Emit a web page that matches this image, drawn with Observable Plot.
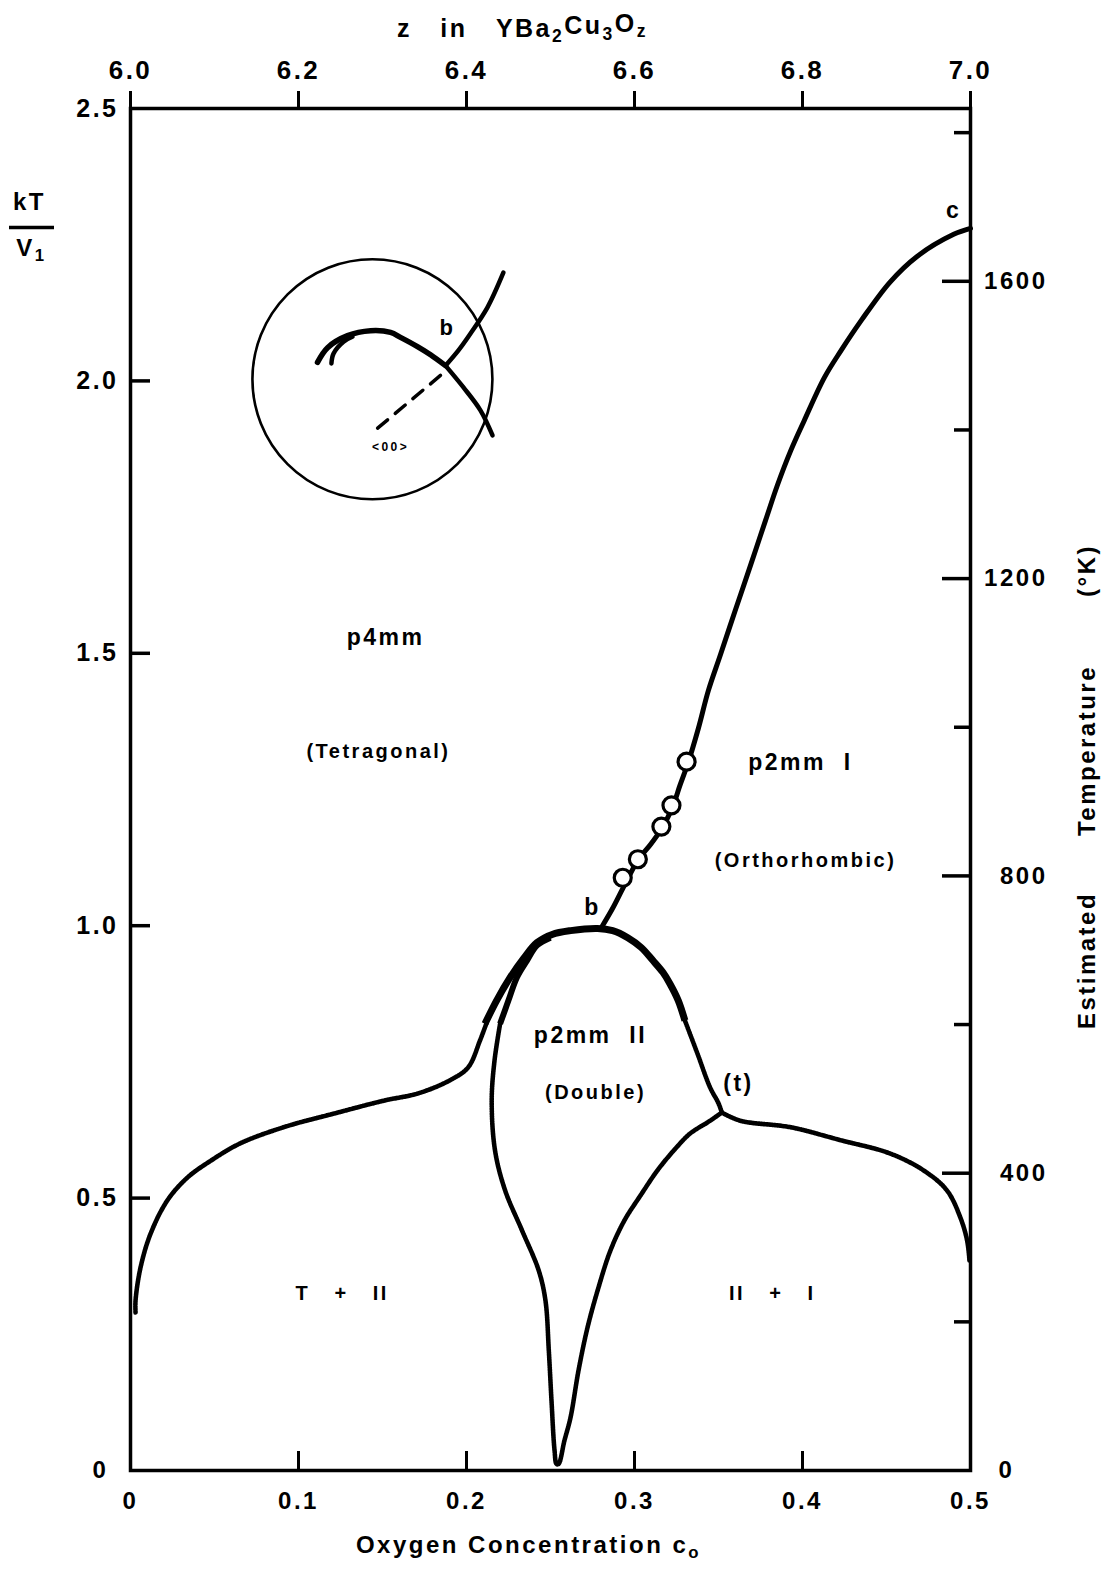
<!DOCTYPE html>
<html><head><meta charset="utf-8">
<script src="https://cdn.jsdelivr.net/npm/d3@7"></script>
<script src="https://cdn.jsdelivr.net/npm/@observablehq/plot@0.6"></script>
<style>
html,body{margin:0;padding:0;background:#fff;}
#chart svg{display:block;}
#chart svg text{letter-spacing:2.5px;}
</style></head><body><div id="chart"></div>
<script>
// ---------- data ----------
const bottomTicks = [0.1, 0.2, 0.3, 0.4];
const bottomLabels = [0, 0.1, 0.2, 0.3, 0.4, 0.5];
const leftTicks = [0.5, 1.0, 1.5, 2.0];
const leftLabels = [0.5, 1.0, 1.5, 2.0, 2.5];
const topTicks = [6.0, 6.2, 6.4, 6.6, 6.8, 7.0];
const tempMajor = [400, 800, 1200, 1600];
const tempMinor = [200, 600, 1000, 1400, 1800];
const tempLabels = [400, 800, 1200, 1600];
const kelvinPerUnit = 733;

// order-disorder line b -> c
const lineBC_x = [0.280,0.287,0.293,0.302,0.310,0.317,0.323,0.327,0.332,0.338,0.344,0.351,0.360,0.369,0.378,0.385,0.393,0.401,0.413,0.423,0.435,0.452,0.468,0.490,0.500];
const lineBC_y = [0.995,1.032,1.068,1.120,1.151,1.182,1.221,1.257,1.300,1.362,1.432,1.496,1.579,1.661,1.744,1.808,1.872,1.927,2.006,2.056,2.111,2.181,2.228,2.269,2.280];
// simulation points (open circles)
const circ_x = [0.293, 0.302, 0.316, 0.322, 0.331];
const circ_y = [1.088, 1.122, 1.182, 1.221, 1.301];

// T + II boundary (left, dotted)
const leftDot_x = [0.003,0.003,0.006,0.012,0.022,0.034,0.048,0.065,0.091,0.121,0.151,0.171,0.190,0.201,0.208,0.212];
const leftDot_y = [0.290,0.312,0.373,0.435,0.496,0.538,0.569,0.600,0.630,0.655,0.679,0.692,0.716,0.740,0.789,0.822];
// dome (thick, outer)
const dome_x = [0.211,0.218,0.226,0.234,0.242,0.251,0.262,0.278,0.287,0.296,0.304,0.311,0.317,0.321,0.326,0.330];
const dome_y = [0.820,0.863,0.905,0.940,0.969,0.984,0.991,0.995,0.991,0.978,0.960,0.936,0.914,0.894,0.863,0.826];
// inner thick branch on the left of the dome
const domeIn_x = [0.220,0.225,0.230,0.236,0.242,0.250];
const domeIn_y = [0.820,0.863,0.905,0.936,0.964,0.978];
// dome right side down to triple point (t), dotted
const rightDown_x = [0.330,0.3375,0.345,0.350,0.352];
const rightDown_y = [0.826,0.765,0.703,0.674,0.657];
// II + I boundary to the right edge, dotted
const rightDot_x = [0.352,0.363,0.393,0.423,0.452,0.472,0.486,0.494,0.498,0.4994];
const rightDot_y = [0.657,0.642,0.630,0.606,0.582,0.551,0.514,0.464,0.422,0.385];
// p2mm II lower boundary (the V), dotted
const vee_x = [0.220,0.2167,0.215,0.217,0.223,0.233,0.243,0.247,0.249,0.2506,0.2524,0.2536,0.2548,0.2583,0.2619,0.2667,0.272,0.278,0.2857,0.294,0.3036,0.3137,0.3244,0.3333,0.3435,0.352];
const vee_y = [0.820,0.753,0.679,0.587,0.514,0.441,0.367,0.312,0.220,0.128,0.037,0.012,0.012,0.055,0.097,0.184,0.262,0.330,0.404,0.459,0.505,0.551,0.591,0.619,0.639,0.657];

// inset (schematic magnification around b)
const inset_x = [0.144], inset_y = [2.003];
const insUp_x = [0.1875,0.1952,0.2024,0.2125,0.222];
const insUp_y = [2.028,2.056,2.087,2.135,2.199];
const insDown_x = [0.1875,0.1982,0.2083,0.2155];
const insDown_y = [2.028,1.988,1.946,1.900];
const insArc_x = [0.1875,0.1786,0.1708,0.1607,0.1548,0.1429,0.1292,0.1173,0.1113];
const insArc_y = [2.028,2.048,2.063,2.080,2.089,2.092,2.083,2.061,2.034];
const insArc2_x = [0.1321,0.1268,0.1208,0.1196];
const insArc2_y = [2.081,2.072,2.050,2.032];
const insDash_x = [0.1845,0.147];
const insDash_y = [2.010,1.913];

// region labels
const regionText = ["p4mm","(Tetragonal)","p2mm\u00A0\u00A0I","(Orthorhombic)","p2mm\u00A0\u00A0II","(Double)","T\u00A0\u00A0\u00A0+\u00A0\u00A0\u00A0II","II\u00A0\u00A0\u00A0+\u00A0\u00A0\u00A0I"];
const regionX = [0.1518,0.1476,0.3988,0.4018,0.2738,0.2768,0.126,0.382];
const regionY = [1.529,1.320,1.300,1.120,0.798,0.694,0.325,0.325];
const pointText = ["b","c","(t)"];
const pointX = [0.275,0.4899,0.3619];
const pointY = [1.033,2.313,0.710];
const insetText = ["b","<00>"];
const insetTX = [0.1887,0.1548];
const insetTY = [2.098,1.878];

// ---------- layout ----------
const W = 1110, H = 1569;
const mT = 108, mR = 140, mB = 99, mL = 130;
const pxX = (W - mL - mR) / 0.5;
const pxY = (H - mT - mB) / 2.5;
const zip = (xs, ys) => xs.map((x, i) => ({x, y: ys[i]}));
const F = "Liberation Sans, Arial, Helvetica, sans-serif";
const dotted = {x: "x", y: "y", curve: "catmull-rom", stroke: "#000", strokeWidth: 4.6, strokeDasharray: "1.6,0.9"};
const T0 = {textAnchor: "middle", lineAnchor: "middle"};

const chart = Plot.plot({
  width: W, height: H,
  marginTop: mT, marginRight: mR, marginBottom: mB, marginLeft: mL,
  x: {domain: [0, 0.5], axis: null},
  y: {domain: [0, 2.5], axis: null},
  style: {fontFamily: F, fontWeight: "bold", background: "white", color: "black", overflow: "visible"},
  marks: [
    // frame & ticks
    Plot.frame({stroke: "black", strokeWidth: 3.5}),
    Plot.ruleY(leftTicks, {x1: 0, x2: 20 / pxX, strokeWidth: 3.5}),
    Plot.ruleX(bottomTicks, {y1: 0, y2: 19 / pxY, strokeWidth: 3}),
    Plot.ruleX(topTicks, {x: d => (d - 6) / 2, y1: 2.5, y2: 2.5 + 17 / pxY, strokeWidth: 3}),
    Plot.ruleY(tempMajor, {y: d => d / kelvinPerUnit, x1: 0.5 - 28 / pxX, x2: 0.5, strokeWidth: 3.5}),
    Plot.ruleY(tempMinor, {y: d => d / kelvinPerUnit, x1: 0.5 - 16 / pxX, x2: 0.5, strokeWidth: 3.5}),
    // tick labels
    Plot.text(bottomLabels, {x: d => d, y: 0, dy: 31, text: d => d === 0 ? "0" : d.toFixed(1), fontSize: 24}),
    Plot.text(leftLabels, {x: 0, y: d => d, dx: -12, textAnchor: "end", text: d => d.toFixed(1), fontSize: 25}),
    Plot.text(["0"], {x: 0, y: 0, dx: -30, fontSize: 24}),
    Plot.text(topTicks, {x: d => (d - 6) / 2, y: 2.5, dy: -38, text: d => d.toFixed(1), fontSize: 26}),
    Plot.text(tempLabels, {x: 0.5, y: d => d / kelvinPerUnit, dx: 77, textAnchor: "end", text: d => String(d), fontSize: 24}),
    Plot.text(["0"], {x: 0.5, y: 0, dx: 36, fontSize: 24}),
    // axis titles
    Plot.text(["z\u00A0\u00A0\u00A0in\u00A0\u00A0\u00A0YBa_2Cu_3O_z"], {...T0, frameAnchor: "top", dx: -28, dy: -80, fontSize: 25}),
    Plot.text(["Oxygen Concentration c_o"], {...T0, frameAnchor: "bottom", dx: -22, dy: 75, fontSize: 24}),
    Plot.text(["kT"], {...T0, frameAnchor: "top-left", dx: -101, dy: 94, fontSize: 24}),
    Plot.ruleY([2.2816], {x1: -121 / pxX, x2: -76 / pxX, strokeWidth: 3.5}),
    Plot.text(["V_1"], {...T0, frameAnchor: "top-left", dx: -99, dy: 140, fontSize: 24}),
    Plot.text(["(°K)"], {...T0, frameAnchor: "top-right", dx: 117, dy: 462, rotate: -90, fontSize: 24}),
    Plot.text(["Temperature"], {...T0, frameAnchor: "top-right", dx: 117, dy: 642, rotate: -90, fontSize: 24}),
    Plot.text(["Estimated"], {...T0, frameAnchor: "top-right", dx: 117, dy: 852, rotate: -90, fontSize: 24}),
    // phase boundaries
    Plot.line(zip(leftDot_x, leftDot_y), dotted),
    Plot.line(zip(vee_x, vee_y), dotted),
    Plot.line(zip(rightDown_x, rightDown_y), dotted),
    Plot.line(zip(rightDot_x, rightDot_y), dotted),
    Plot.line(zip(dome_x, dome_y), {x: "x", y: "y", curve: "catmull-rom", strokeWidth: 7, strokeLinecap: "butt"}),
    Plot.line(zip(domeIn_x, domeIn_y), {x: "x", y: "y", curve: "catmull-rom", strokeWidth: 6, strokeLinecap: "butt"}),
    Plot.line(zip(lineBC_x, lineBC_y), {x: "x", y: "y", curve: "catmull-rom", strokeWidth: 5}),
    Plot.dot(zip(circ_x, circ_y), {x: "x", y: "y", r: 8.5, fill: "white", stroke: "black", strokeWidth: 3.2}),
    // inset
    Plot.dot(zip(inset_x, inset_y), {x: "x", y: "y", r: 120, fill: "none", stroke: "black", strokeWidth: 2.6}),
    Plot.line(zip(insUp_x, insUp_y), {x: "x", y: "y", curve: "catmull-rom", strokeWidth: 4.5, strokeLinecap: "round"}),
    Plot.line(zip(insDown_x, insDown_y), {x: "x", y: "y", curve: "catmull-rom", strokeWidth: 4.5, strokeLinecap: "round"}),
    Plot.line(zip(insArc_x, insArc_y), {x: "x", y: "y", curve: "catmull-rom", strokeWidth: 5.5, strokeLinecap: "round"}),
    Plot.line(zip(insArc2_x, insArc2_y), {x: "x", y: "y", curve: "catmull-rom", strokeWidth: 4.5, strokeLinecap: "round"}),
    Plot.line(zip(insDash_x, insDash_y), {x: "x", y: "y", strokeWidth: 3.5, strokeDasharray: "13,10"}),
    Plot.text(insetText, {x: (d, i) => insetTX[i], y: (d, i) => insetTY[i], text: d => d, fontSize: (d, i) => i === 0 ? 22 : 12}),
    // labels
    Plot.text(regionText, {x: (d, i) => regionX[i], y: (d, i) => regionY[i], text: d => d, fontSize: (d, i) => (i % 2 === 0 && i < 6) ? 23 : 20}),
    Plot.text(pointText, {x: (d, i) => pointX[i], y: (d, i) => pointY[i], text: d => d, fontSize: 23})
  ]
});

// subscripts: "_X" -> subscript X
d3.select(chart).selectAll("text").each(function () {
  const t = this.textContent;
  if (!t.includes("_") || this.children.length) return;
  const sel = d3.select(this);
  sel.text(null);
  const parts = t.split(/_(.)/);
  for (let i = 0; i < parts.length; i++) {
    if (i % 2 === 0) {
      if (parts[i]) sel.append("tspan").attr("dy", i > 0 ? "-0.3em" : null).text(parts[i]);
    } else {
      sel.append("tspan").attr("dy", "0.3em").attr("font-size", "0.7em").text(parts[i]);
    }
  }
});
document.getElementById("chart").appendChild(chart);
</script></body></html>
